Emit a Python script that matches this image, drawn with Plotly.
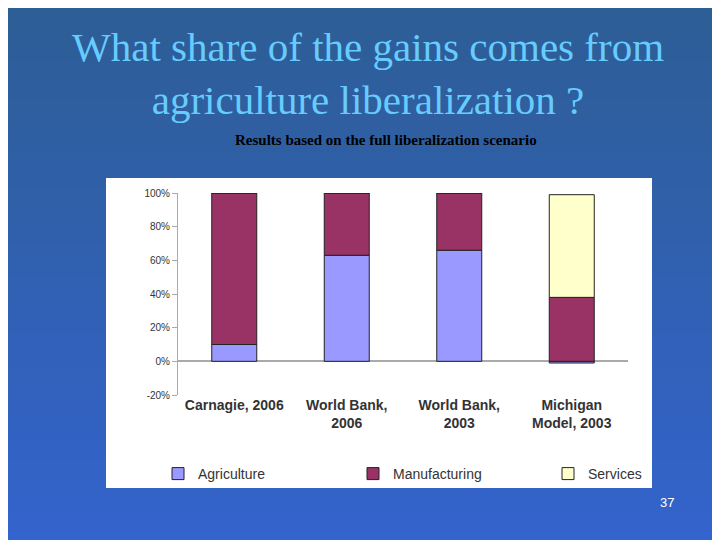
import plotly.graph_objects as go

categories = ["Carnagie, 2006", "World Bank,<br>2006", "World Bank,<br>2003", "Michigan<br>Model, 2003"]
agriculture = [10, 63, 66, -1]
manufacturing = [90, 37, 34, 38]
services = [0, 0, 0, 61]
y_ticks = [-20, 0, 20, 40, 60, 80, 100]
y_labels = ["-20%", "0%", "20%", "40%", "60%", "80%", "100%"]

fig = go.Figure()
line = dict(color="#222222", width=1)
fig.add_bar(x=categories, y=agriculture, name="Agriculture", marker=dict(color="#9999ff", line=line))
fig.add_bar(x=categories, y=manufacturing, name="Manufacturing", marker=dict(color="#993366", line=line))
fig.add_bar(x=categories, y=services, name="Services", marker=dict(color="#ffffcc", line=line))

# blue gradient background
shapes = []
n = 30
for i in range(n):
    t = i / (n - 1)
    r = int(46 + (52 - 46) * t)
    g = int(94 + (100 - 94) * t)
    b = int(150 + (205 - 150) * t)
    shapes.append(dict(type="rect", xref="paper", yref="paper", x0=0, x1=1,
                       y0=1 - (i + 1) / n, y1=1 - i / n, fillcolor=f"rgb({r},{g},{b})",
                       line=dict(width=0), layer="below"))
# white chart panel
shapes.append(dict(type="rect", xref="paper", yref="paper", x0=98 / 720, x1=644 / 720,
                   y0=1 - 480 / 540, y1=1 - 170 / 540, fillcolor="white",
                   line=dict(width=0), layer="below"))

fig.update_layout(
    width=720, height=540, margin=dict(l=0, r=0, t=0, b=0, autoexpand=False),
    barmode="relative", bargap=0.6, showlegend=True,
    paper_bgcolor="#3464b8", plot_bgcolor="rgba(0,0,0,0)",
    shapes=shapes,
    xaxis=dict(domain=[170 / 720, 620 / 720], showline=False, ticks="",
               tickfont=dict(family="Arial", size=14, color="#333333", weight="bold"),
               anchor="y"),
    yaxis=dict(domain=[1 - 387 / 540, 1 - 185 / 540], range=[-20, 100], tickvals=y_ticks,
               ticktext=y_labels, showgrid=False, zeroline=True, zerolinecolor="#aaaaaa",
               showline=True, linecolor="#aaaaaa", ticks="outside", tickcolor="#aaaaaa",
               tickfont=dict(family="Arial", size=10, color="#333333")),
    legend=dict(orientation="h", x=150 / 720, xanchor="left", y=1 - 466 / 540, yanchor="middle",
                font=dict(family="Arial", size=14, color="#333333"), traceorder="normal",
                bgcolor="rgba(0,0,0,0)", entrywidthmode="pixels", entrywidth=150,
                itemwidth=30),
    annotations=[
        dict(text="What share of the gains comes from<br>agriculture liberalization ?", x=0.5, y=1 - 14 / 540,
             xref="paper", yref="paper", xanchor="center", yanchor="top", showarrow=False,
             font=dict(family="Liberation Serif", size=41, color="#66ccff")),
        dict(text="<b>Results based on the full liberalization scenario</b>", x=378 / 720, y=1 - 132 / 540,
             xref="paper", yref="paper", xanchor="center", yanchor="middle", showarrow=False,
             font=dict(family="Liberation Serif", size=15, color="black")),
        dict(text="37", x=668 / 720, y=1 - 504 / 540, xref="paper", yref="paper", showarrow=False,
             font=dict(family="Arial", size=13, color="white")),
    ],
)

fig.write_html("out.html")
